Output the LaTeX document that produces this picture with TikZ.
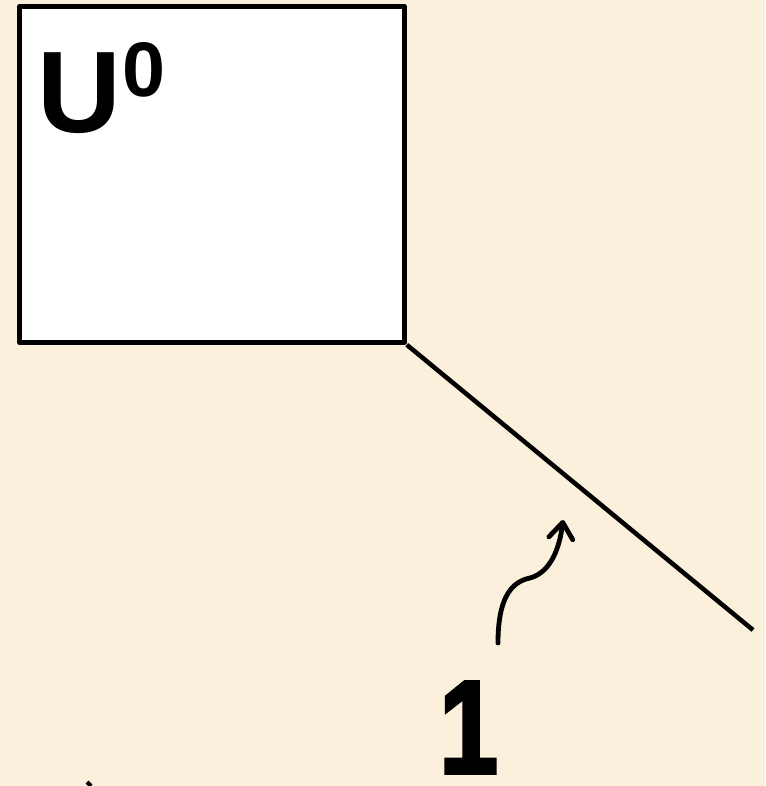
\documentclass[tikz,border=0pt]{standalone}
\usepackage{fontspec}
\setmainfont{Liberation Sans}
\newfontfamily\heavyone{Liberation Sans}[UprightFont={* Bold},UprightFeatures={FakeBold=3}]
\usetikzlibrary{arrows.meta}
\definecolor{bgcol}{HTML}{FAF0DB}
\tikzset{
  px/.style={x=0.75pt,y=-0.75pt},
  boxshape/.style={draw=black,fill=white,line width=3.6pt,line join=round,minimum width=385*0.75pt,minimum height=336*0.75pt,inner sep=0pt,anchor=north west},
  conn/.style={line width=3.4pt,line cap=butt},
  curvearrow/.style={line width=3.6pt,line cap=round,-{Straight Barb[length=12pt,width=18pt,line width=3.6pt,round]}},
  labeltext/.style={inner sep=0pt,anchor=base west,font=\bfseries}
}
\begin{document}
\begin{tikzpicture}[px]
\fill[bgcol] (0,0) rectangle (765,786);
\useasboundingbox (0,0) rectangle (765,786);
\node[boxshape] (box) at (17,4) {};
\node[labeltext,font=\fontsize{87}{87}\selectfont\bfseries] (u) at (37,132) {U};
\node[labeltext,font=\fontsize{58}{58}\selectfont\bfseries] (sup) at (122,96) {0};
\coordinate (lineend) at (753,630);
\draw[conn] (box.south east) -- (lineend);
\node[labeltext,xscale=0.8,font=\fontsize{99}{99}\selectfont\heavyone] (one) at (439,773) {1};
\coordinate (arrstart) at (498,643);
\coordinate (arrtip) at (563,520);
\draw[curvearrow] (arrstart) .. controls (498,600) and (510,582) .. (530,578)
  .. controls (552,572) and (560,545) .. (arrtip);
\coordinate (marka) at (87,782);
\coordinate (markb) at (91,786);
\draw[line width=3pt] (marka) -- (markb);
\end{tikzpicture}
\end{document}
